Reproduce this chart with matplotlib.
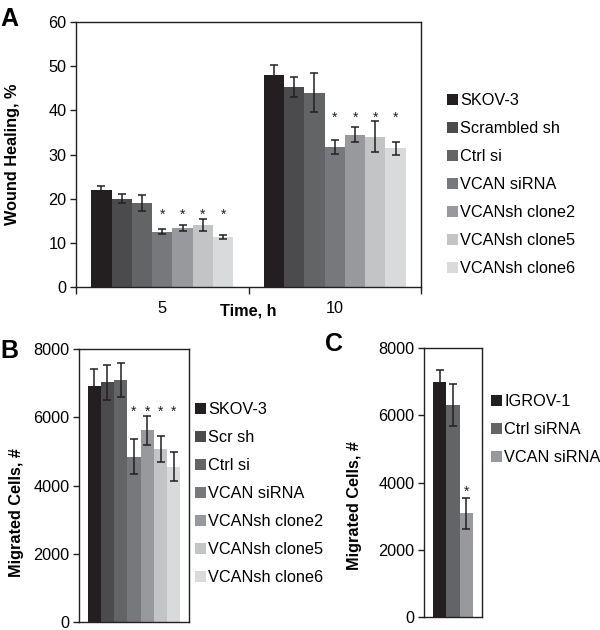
import matplotlib
matplotlib.use("Agg")
import matplotlib.pyplot as plt
import matplotlib.transforms as mtransforms
from matplotlib.patches import Patch

plt.rcParams['font.family'] = ['Liberation Sans', 'DejaVu Sans']
plt.rcParams['font.size'] = 11.7

# panel A: wound healing
a_times = ["5", "10"]
a_groups = ["SKOV-3", "Scrambled sh", "Ctrl si", "VCAN siRNA",
            "VCANsh clone2", "VCANsh clone5", "VCANsh clone6"]
a_vals_5 = [21.9, 20.0, 19.1, 12.5, 13.3, 14.1, 11.3]
a_err_5 = [1.0, 1.0, 1.8, 0.6, 0.65, 1.4, 0.5]
a_vals_10 = [47.9, 45.3, 44.0, 31.7, 34.5, 34.0, 31.4]
a_err_10 = [2.3, 2.3, 4.4, 1.6, 1.7, 3.5, 1.5]
a_star = [False, False, False, True, True, True, True]

# panel B: migration SKOV-3
b_groups = ["SKOV-3", "Scr sh", "Ctrl si", "VCAN siRNA",
            "VCANsh clone2", "VCANsh clone5", "VCANsh clone6"]
b_vals = [6930, 7020, 7080, 4850, 5620, 5060, 4550]
b_err = [490, 500, 500, 520, 420, 380, 420]
b_star = [False, False, False, True, True, True, True]

# panel C: migration IGROV-1
c_groups = ["IGROV-1", "Ctrl siRNA", "VCAN siRNA"]
c_vals = [7000, 6300, 3080]
c_err = [360, 630, 470]
c_star = [False, False, True]

grays7 = ["#231f20", "#4b4b4d", "#636466", "#77787b", "#98999c", "#c3c4c6", "#d9dadb"]
grays3 = ["#231f20", "#636466", "#98999c"]
edge = "#231f20"

fig = plt.figure(figsize=(6, 6.3), dpi=100)


def style_axes(ax):
    for s in ax.spines.values():
        s.set_color(edge)
        s.set_linewidth(1.0)
    ax.tick_params(axis='y', direction='out', length=4, width=1, color=edge, pad=3)


def add_stars(ax, xs, vals, errs, flags, offset):
    top = max(v + e for v, e, f in zip(vals, errs, flags) if f)
    for x, f in zip(xs, flags):
        if f:
            ax.text(x, top + offset, "*", ha='center', va='center', fontsize=10, color=edge)


def add_legend(handles, labels, x, y):
    fig.legend(handles, labels, loc='upper left', bbox_to_anchor=(x, y),
               frameon=False, borderpad=0, borderaxespad=0,
               handlelength=0.65, handleheight=0.65,
               handletextpad=0.15, labelspacing=0.8)


def set_ylab(ax, text, x, y):
    ax.set_ylabel(text, fontweight='bold', va='center')
    ax.yaxis.set_label_coords(x, y)


# ---- A ----
axA = fig.add_axes([0.1267, 0.5444, 0.575, 0.4206])
style_axes(axA)
n = len(a_groups)
group_w = 0.823
bw = group_w / n
series = [(a_vals_5, a_err_5), (a_vals_10, a_err_10)]
for gi, (vals, errs) in enumerate(series):
    xs = [gi - group_w / 2 + bw * (i + 0.5) for i in range(n)]
    axA.bar(xs, vals, width=bw, color=grays7, edgecolor='none')
    axA.errorbar(xs, vals, yerr=errs, fmt='none', ecolor=edge, elinewidth=1.1,
                 capsize=2.6, capthick=1.1)
    add_stars(axA, xs, vals, errs, a_star, 0.9)
axA.set_xlim(-0.5, 1.5)
axA.set_ylim(0, 60)
axA.set_yticks(range(0, 61, 10))
axA.set_xticks([0, 1])
axA.set_xticklabels(a_times)
axA.set_xticks([-0.5, 0.5, 1.5], minor=True)
axA.tick_params(axis='x', which='major', length=0, pad=10)
axA.tick_params(axis='x', which='minor', direction='out', length=5, width=1, color=edge)
trans = mtransforms.blended_transform_factory(axA.transData, axA.transAxes)
axA.text(0.5, -0.09, "Time, h", transform=trans, ha='center', va='center',
         fontweight='bold')
set_ylab(axA, "Wound Healing, %", -0.183, 0.5)
add_legend([Patch(facecolor=c, edgecolor='none') for c in grays7], a_groups,
           447 / 600, 1 - 93 / 630)
fig.text(0.0, 1 - 19 / 630, "A", fontsize=18, fontweight='bold', va='center', ha='left')

# ---- B ----
axB = fig.add_axes([0.1317, 0.0127, 0.1833, 0.4333])
style_axes(axB)
nb = len(b_groups)
gw = 0.845
bwb = gw / nb
xsb = [-gw / 2 + bwb * (i + 0.5) for i in range(nb)]
axB.bar(xsb, b_vals, width=bwb, color=grays7, edgecolor='none')
axB.errorbar(xsb, b_vals, yerr=b_err, fmt='none', ecolor=edge, elinewidth=1.1,
             capsize=2.6, capthick=1.1)
add_stars(axB, xsb, b_vals, b_err, b_star, 110)
axB.set_xlim(-0.5, 0.5)
axB.set_ylim(0, 8000)
axB.set_yticks(range(0, 8001, 2000))
axB.set_xticks([])
set_ylab(axB, "Migrated Cells, #", -0.573, 0.4)
add_legend([Patch(facecolor=c, edgecolor='none') for c in grays7], b_groups,
           195 / 600, 1 - 402 / 630)
fig.text(0.0, 1 - 351 / 630, "B", fontsize=18, fontweight='bold', va='center', ha='left')

# ---- C ----
axC = fig.add_axes([0.7067, 0.0206, 0.0967, 0.427])
style_axes(axC)
nc = len(c_groups)
gwc = 0.69
bwc = gwc / nc
xsc = [-gwc / 2 + bwc * (i + 0.5) for i in range(nc)]
axC.bar(xsc, c_vals, width=bwc, color=grays3, edgecolor='none')
axC.errorbar(xsc, c_vals, yerr=c_err, fmt='none', ecolor=edge, elinewidth=1.1,
             capsize=2.6, capthick=1.1)
add_stars(axC, xsc, c_vals, c_err, c_star, 170)
axC.set_xlim(-0.5, 0.5)
axC.set_ylim(0, 8000)
axC.set_yticks(range(0, 8001, 2000))
axC.set_xticks([])
set_ylab(axC, "Migrated Cells, #", -1.19, 0.413)
add_legend([Patch(facecolor=c, edgecolor='none') for c in grays3], c_groups,
           491 / 600, 1 - 394 / 630)
fig.text(0.541, 1 - 344 / 630, "C", fontsize=18, fontweight='bold', va='center', ha='left')

fig.savefig("out.png", dpi=100)
